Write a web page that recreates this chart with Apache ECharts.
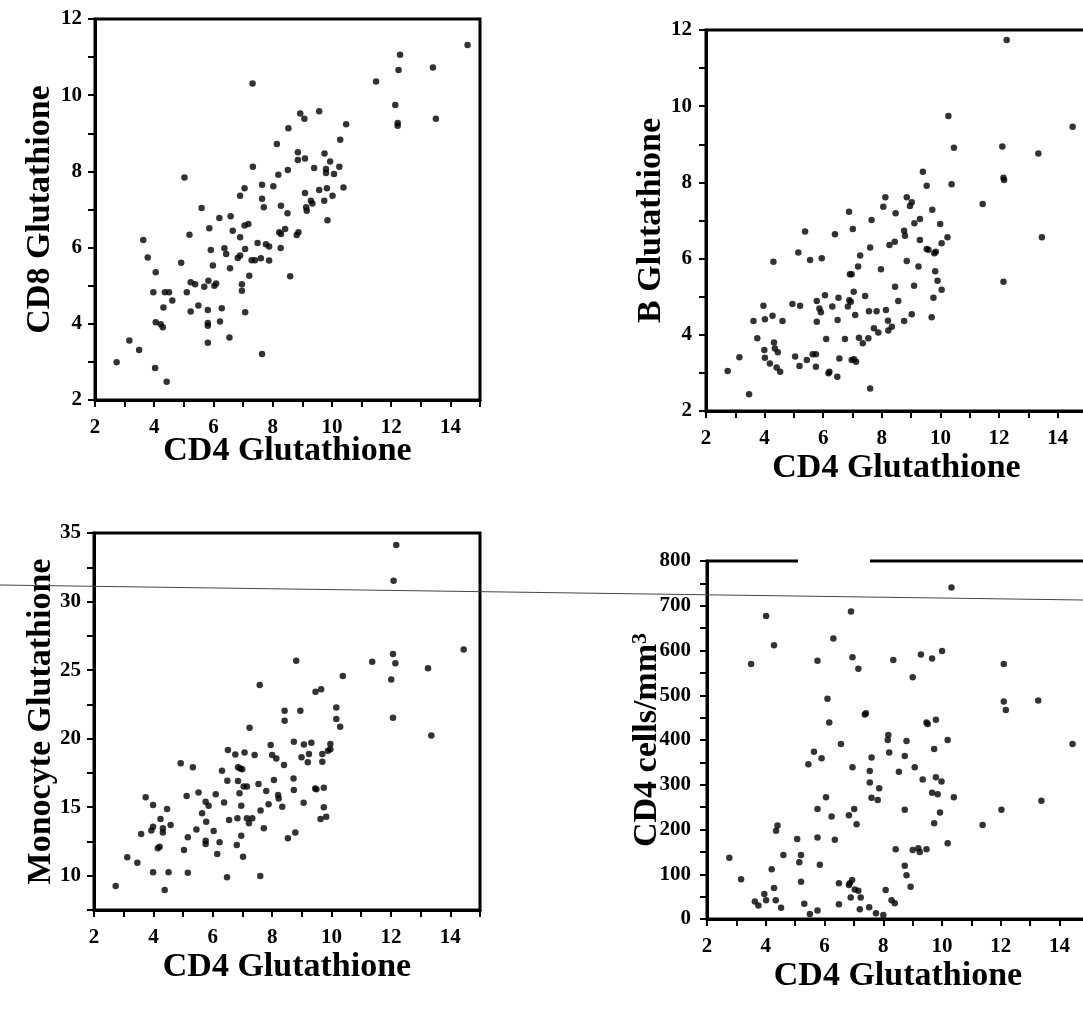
<!DOCTYPE html>
<html><head><meta charset="utf-8">
<script src="https://cdn.jsdelivr.net/npm/echarts@6/dist/echarts.min.js"></script>
<style>html,body{margin:0;padding:0;background:#fff}#c{width:1083px;height:1013px}</style>
</head><body><div id="c"></div>
<script>
// Panel 1: CD8 vs CD4 glutathione
const cd8X = [2.73,3.16,3.49,4.03,4.42,3.63,3.78,4.05,3.97,4.36,
4.50,4.31,4.61,4.05,4.22,4.29,4.91,5.02,5.19,5.10,
5.23,5.38,5.23,5.49,5.60,5.69,5.83,5.86,5.91,5.98,
6.03,6.09,5.81,5.81,5.81,5.81,6.20,6.28,6.22,6.37,
6.43,6.56,6.54,6.58,6.65,6.90,6.82,6.90,7.07,7.05,
7.18,6.96,6.96,7.07,6.90,7.05,7.21,7.32,7.33,7.29,
7.40,7.49,7.60,7.64,7.64,7.70,7.77,7.88,7.88,7.64,
8.02,8.14,8.19,8.28,8.22,8.28,8.42,8.27,8.50,8.53,
8.51,8.59,8.81,8.87,8.85,8.85,8.93,9.07,9.09,9.09,
9.13,9.15,9.29,9.34,9.40,9.57,9.57,9.74,9.75,9.80,
9.80,9.83,9.85,9.94,10.02,10.07,10.25,10.28,10.39,10.48,
11.49,12.14,12.22,12.22,12.25,12.30,13.41,13.51,14.58];
const cd8Y = [2.99,3.56,3.31,2.84,2.48,6.20,5.74,5.35,4.83,4.83,
4.83,4.43,4.61,4.04,3.99,3.91,5.60,7.84,6.34,4.83,
5.09,5.04,4.32,4.48,7.04,4.97,5.13,6.51,5.94,5.53,
5.00,5.06,4.36,4.02,3.95,3.50,6.78,4.41,4.06,5.98,
5.83,5.46,3.64,6.82,6.44,6.27,5.73,5.79,5.96,6.58,
6.62,5.04,4.87,4.30,7.36,7.56,5.26,10.31,8.12,5.67,
5.67,6.12,5.72,7.65,7.28,7.06,6.09,6.03,5.66,3.21,
7.61,8.72,7.91,7.10,6.40,6.36,6.49,5.99,6.90,9.13,
8.04,5.25,6.33,6.40,8.50,8.30,9.52,9.38,8.34,7.43,
7.06,6.97,7.23,7.16,8.09,9.58,7.51,7.23,8.47,8.06,
7.96,7.56,6.72,8.26,7.36,7.93,8.12,8.83,7.58,9.24,
10.36,9.74,9.27,9.20,10.66,11.06,10.73,9.38,11.32];

// Panel 2: B vs CD4 glutathione
const bX = [2.74,3.14,3.47,3.62,3.75,3.96,4.01,4.01,3.99,4.18,
4.27,4.30,4.32,4.35,4.45,4.41,4.53,4.61,4.95,5.04,
5.15,5.19,5.21,5.38,5.44,5.55,5.64,5.75,5.78,5.78,
5.75,5.87,5.92,5.95,6.06,6.10,6.18,6.21,6.31,6.40,
6.48,6.49,6.52,6.55,6.74,6.84,6.88,6.89,6.91,6.97,
6.94,6.97,7.05,7.12,7.01,7.04,7.09,7.19,7.22,7.26,
7.35,7.43,7.54,7.56,7.60,7.60,7.65,7.73,7.82,7.88,
7.97,8.05,8.12,8.14,8.21,8.22,8.26,8.34,8.44,8.45,
8.47,8.56,8.76,8.76,8.79,8.85,8.85,8.96,9.02,9.02,
9.10,9.11,9.25,9.30,9.30,9.40,9.53,9.53,9.59,9.70,
9.72,9.76,9.79,9.82,9.84,9.90,9.99,10.04,10.04,10.24,
10.27,10.38,10.46,11.44,12.11,12.15,12.17,12.15,12.26,13.34,
13.46,14.51];
const bY = [3.05,3.41,2.44,4.36,3.91,4.76,4.41,3.40,3.60,3.25,
4.50,5.92,3.80,3.64,3.54,3.14,3.03,4.36,4.81,3.43,
6.16,3.18,4.76,6.71,3.34,5.96,3.49,3.49,4.89,4.34,
3.16,4.69,4.59,6.01,5.04,3.89,2.99,3.03,4.74,6.64,
2.90,4.39,4.97,3.38,3.89,4.74,7.23,4.91,5.59,5.59,
4.87,3.34,3.36,3.29,6.78,5.13,4.52,5.79,3.92,6.08,
3.78,5.02,3.91,4.62,6.29,2.59,7.01,4.17,4.62,4.06,
5.72,7.36,7.61,4.65,4.37,4.11,6.36,4.21,6.44,5.26,
7.19,4.89,4.36,6.73,6.60,7.61,5.94,7.38,7.48,4.54,
5.29,6.93,5.79,6.49,7.04,8.28,7.91,6.25,6.23,4.46,
7.28,4.97,6.14,5.67,6.18,5.42,6.91,6.40,5.18,6.56,
9.74,7.95,8.91,7.43,8.94,8.12,8.06,5.39,11.74,8.76,
6.56,9.46];

// Panel 3: Monocyte vs CD4 glutathione
const monoX = [2.73,3.12,3.46,3.59,3.74,3.93,3.99,3.99,3.99,4.15,
4.21,4.24,4.32,4.32,4.38,4.46,4.51,4.58,4.92,5.03,
5.12,5.16,5.16,5.33,5.45,5.52,5.64,5.76,5.78,5.76,
5.76,5.86,6.03,6.10,6.15,6.23,6.31,6.38,6.48,6.49,
6.51,6.55,6.76,6.81,6.83,6.85,6.85,6.90,6.93,6.96,
6.96,6.99,7.02,7.04,7.07,7.15,7.15,7.22,7.24,7.33,
7.41,7.54,7.58,7.60,7.61,7.72,7.80,7.88,7.95,8.00,
8.06,8.14,8.20,8.22,8.34,8.40,8.42,8.42,8.53,8.72,
8.73,8.73,8.78,8.81,8.95,8.99,9.06,9.07,9.20,9.24,
9.32,9.45,9.49,9.46,9.63,9.65,9.69,9.69,9.74,9.74,
9.82,9.88,9.96,9.96,10.16,10.16,10.29,10.38,11.37,12.01,
12.07,12.15,12.07,12.09,12.18,13.25,13.36,14.45];
const monoY = [9.25,11.34,10.95,13.04,15.72,13.29,13.58,15.16,10.25,12.00,
12.12,14.14,13.46,13.16,8.96,14.87,10.25,13.70,18.20,11.88,
15.82,12.80,10.22,17.91,13.38,16.08,14.55,15.40,13.94,12.56,
12.31,15.11,13.26,15.94,11.58,12.44,17.66,15.35,9.88,16.93,
19.17,14.06,18.85,12.24,14.19,16.91,17.91,16.01,17.83,15.11,
12.92,17.76,11.39,16.50,18.98,14.19,16.50,13.82,20.80,14.19,
18.81,16.69,23.91,9.98,14.75,13.46,16.18,15.21,19.53,18.81,
16.98,18.56,15.89,15.64,15.04,18.08,22.04,21.31,12.73,17.10,
16.25,19.78,13.16,25.69,22.04,18.64,15.33,19.58,18.27,18.88,
19.70,16.37,16.30,23.42,14.14,23.60,18.32,18.88,16.42,14.99,
14.31,19.12,19.61,19.22,22.28,21.43,20.87,24.57,25.61,24.32,
26.17,25.49,21.53,31.52,34.12,25.13,20.22,26.51];

// Panel 4: CD4 cells/mm3 vs CD4 glutathione
const cellX = [2.76,3.16,3.50,3.63,3.75,3.95,4.01,4.01,4.20,4.28,
4.28,4.34,4.35,4.40,4.52,4.60,5.07,5.14,5.20,5.20,
5.31,5.45,5.50,5.64,5.76,5.76,5.76,5.76,5.84,5.90,
6.05,6.10,6.16,6.24,6.30,6.35,6.49,6.49,6.56,6.83,
6.83,6.86,6.90,6.94,6.89,6.95,6.95,7.01,7.03,7.09,
7.15,7.15,7.20,7.23,7.37,7.41,7.52,7.54,7.54,7.60,
7.60,7.75,7.81,7.86,8.00,8.08,8.15,8.17,8.20,8.28,
8.34,8.39,8.42,8.53,8.73,8.73,8.73,8.79,8.79,8.93,
9.00,9.00,9.07,9.19,9.24,9.28,9.34,9.47,9.47,9.51,
9.66,9.66,9.73,9.73,9.79,9.79,9.85,9.93,9.98,10.00,
10.19,10.19,10.32,10.40,11.38,12.02,12.10,12.10,12.17,13.27,
13.38,14.44];
const cellY = [137,89,570,39,30,56,677,42,111,612,
69,42,197,209,25,143,179,127,143,83,
34,346,11,374,577,246,182,19,121,359,
272,492,439,229,627,177,80,33,391,232,
76,80,687,87,48,585,339,246,66,212,
559,63,22,48,457,460,26,305,331,361,
271,13,266,292,9,65,400,411,372,42,
579,35,156,329,364,244,119,398,98,72,
540,154,339,158,150,591,312,156,439,436,
582,282,380,214,445,317,279,238,307,599,
400,169,741,272,210,244,570,486,467,488,
264,391];

const xTitle = 'CD4 Glutathione';
const yTitles = ['CD8 Glutathione', 'B Glutathione', 'Monocyte Glutathione', 'CD4 cells/mm{sup|3}'];

const FONT = 'Liberation Serif';
const zip = (a, b) => a.map((v, i) => [v, b[i]]);
const labelStyle = { color: '#000', fontFamily: FONT, fontWeight: 'bold', fontSize: 21 };
const titleStyle = { color: '#000', fontFamily: FONT, fontWeight: 'bold', fontSize: 34,
  rich: { sup: { fontFamily: FONT, fontWeight: 'bold', fontSize: 22, verticalAlign: 'top', padding: [0,0,14,0] } } };
const axisLine = { lineStyle: { color: '#000', width: 3 } };
const axisTick = { length: 7, lineStyle: { color: '#000', width: 2 } };

function xAxis(i, gap) {
  return { gridIndex: i, type: 'value', min: 2, max: 15, interval: 1,
    axisLine, axisTick, splitLine: { show: false },
    axisLabel: { ...labelStyle, margin: 17, formatter: v => (v % 2 === 0 ? String(v) : '') },
    name: xTitle, nameLocation: 'middle', nameGap: gap, nameMoveOverlap: false, nameTextStyle: titleStyle };
}
function yAxis(i, min, max, step, labStep, gap, margin) {
  return { gridIndex: i, type: 'value', min, max, interval: step,
    axisLine, axisTick, splitLine: { show: false },
    axisLabel: { ...labelStyle, margin, formatter: v => (Math.abs(v % labStep) < 1e-9 ? String(v) : '') },
    name: yTitles[i], nameLocation: 'middle', nameGap: gap, nameMoveOverlap: false, nameTextStyle: titleStyle };
}
const gridBase = { show: true, borderColor: '#000', borderWidth: 3, backgroundColor: 'transparent',
  containLabel: false, outerBoundsMode: 'none' };
const dot = { type: 'scatter', symbol: 'circle', symbolSize: 6.5, itemStyle: { color: '#000' }, silent: true };

const chart = echarts.init(document.getElementById('c'), null, { renderer: 'canvas' });
chart.setOption({
  animation: false,
  backgroundColor: '#fff',
  grid: [
    { ...gridBase, left: 95, top: 19, width: 385, height: 381 },
    { ...gridBase, left: 706, top: 30, width: 381, height: 381 },
    { ...gridBase, left: 94, top: 533, width: 386, height: 377 },
    { ...gridBase, left: 707, top: 561, width: 382, height: 358 }
  ],
  xAxis: [xAxis(0, 34), xAxis(1, 40), xAxis(2, 40), xAxis(3, 40)],
  yAxis: [
    yAxis(0, 2, 12, 1, 2, 38, 13),
    yAxis(1, 2, 12, 1, 2, 38, 14),
    yAxis(2, 7.5, 35, 2.5, 5, 36, 13),
    yAxis(3, 0, 800, 50, 100, 42, 16)
  ],
  series: [
    { ...dot, xAxisIndex: 0, yAxisIndex: 0, data: zip(cd8X, cd8Y) },
    { ...dot, xAxisIndex: 1, yAxisIndex: 1, data: zip(bX, bY) },
    { ...dot, xAxisIndex: 2, yAxisIndex: 2, data: zip(monoX, monoY) },
    { ...dot, xAxisIndex: 3, yAxisIndex: 3, data: zip(cellX, cellY) }
  ],
  graphic: [
    { type: 'line', z: 100, silent: true, shape: { x1: 0, y1: 585, x2: 1083, y2: 600 },
      style: { stroke: '#444', lineWidth: 1 } },
    // break in the scanned top frame of the lower-right panel
    { type: 'rect', z: 100, silent: true, shape: { x: 798, y: 557, width: 72, height: 9 },
      style: { fill: '#fff' } }
  ]
});
</script></body></html>
